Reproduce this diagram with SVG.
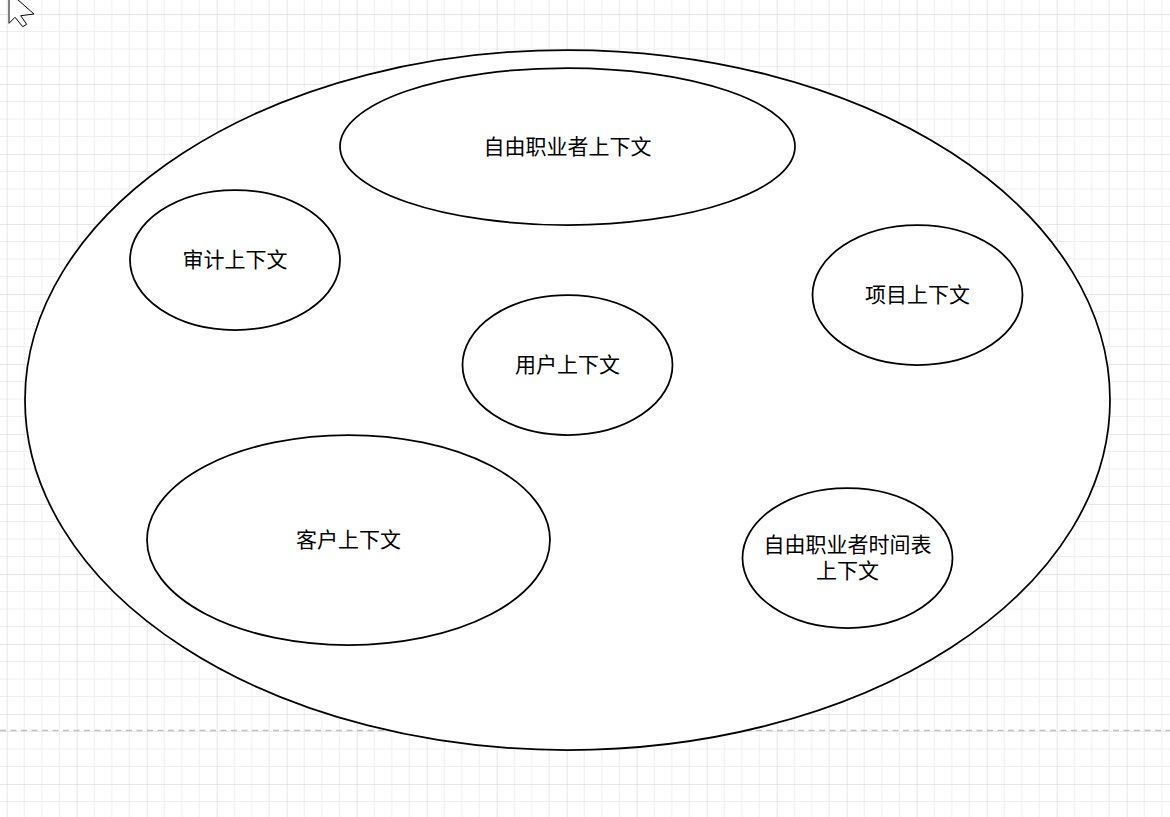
<svg xmlns="http://www.w3.org/2000/svg" width="1170" height="817" viewBox="0 0 1170 817">
<style>
.n{fill:#ffffff;stroke:#000000;stroke-width:1.75}
.t{font-family:"Noto Sans CJK SC","Liberation Sans",sans-serif;font-size:21px;fill:#000000;text-anchor:middle;dominant-baseline:central}
</style>
<defs>
<pattern id="grid" patternUnits="userSpaceOnUse" x="6.7" y="14" width="70" height="70">
<path d="M17.5 0V70M35 0V70M52.5 0V70M0 17.5H70M0 35H70M0 52.5H70" stroke="#eeeeee" stroke-width="1" fill="none"/>
<path d="M0 0V70M0 0H70" stroke="#d0d0d0" stroke-width="1" fill="none"/>
</pattern>
</defs>
<rect width="1170" height="817" fill="#ffffff"/>
<rect width="1170" height="817" fill="url(#grid)"/>
<line x1="0" y1="730.5" x2="1170" y2="730.5" stroke="#c0c0c0" stroke-width="1.5" stroke-dasharray="6,4.5"/>
<g id="outer"><ellipse class="n" cx="567.5" cy="400" rx="542.5" ry="350"/></g>
<g id="freelancer"><ellipse class="n" cx="567.5" cy="146.5" rx="227.5" ry="78.5"/><text class="t" x="567.5" y="144.5">自由职业者上下文</text></g>
<g id="audit"><ellipse class="n" cx="235" cy="260" rx="105" ry="70"/><text class="t" x="235" y="257.5">审计上下文</text></g>
<g id="project"><ellipse class="n" cx="917.5" cy="295" rx="105" ry="70"/><text class="t" x="917.5" y="292.5">项目上下文</text></g>
<g id="user"><ellipse class="n" cx="567.5" cy="365" rx="105" ry="70"/><text class="t" x="567.5" y="362.5">用户上下文</text></g>
<g id="client"><ellipse class="n" cx="348.5" cy="540" rx="201.5" ry="105"/><text class="t" x="348.5" y="537.5">客户上下文</text></g>
<g id="timesheet"><ellipse class="n" cx="847.5" cy="558" rx="105" ry="70"/><text class="t" x="847.5" y="542.5">自由职业者时间表</text><text class="t" x="847.5" y="568.5">上下文</text></g>
<g id="connectors"></g>
<polygon points="9,-8 9,23.3 15,17.3 22.7,26.7 26.7,24.3 20.7,15.7 34,14" fill="#ffffff" stroke="#000000" stroke-width="1"/>
</svg>
